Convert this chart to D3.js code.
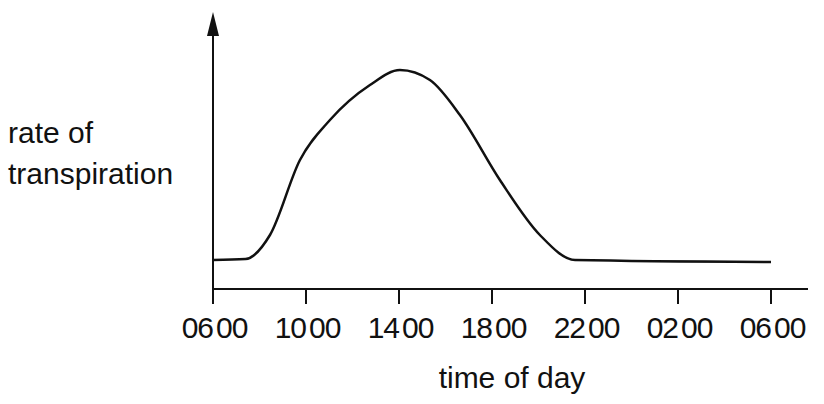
<!DOCTYPE html>
<html><head><meta charset="utf-8">
<script src="https://cdn.jsdelivr.net/npm/d3@7"></script>
<style>body{margin:0;background:#fff}text{font-family:"Liberation Sans",Arial,sans-serif;fill:#111}</style>
</head><body><svg width="824" height="404"></svg>
<script>
// hours after 06:00, and rate (arbitrary units)
var hours = [0, 1.4, 2.45, 3.74, 5.03, 6.75, 8.04, 9.33, 10.62, 12.34, 14.06, 15.57, 24];
var rate  = [30, 31, 55, 130, 170, 205, 220, 210, 175, 110, 55, 30, 28];
var tickHours = [0, 4, 8, 12, 16, 20, 24];
var tickLabels = ["06", "10", "14", "18", "22", "02", "06"];

var svg = d3.select("svg");
var x = d3.scaleLinear().domain([0, 24]).range([213, 771]);
var y = d3.scaleLinear().domain([0, 290]).range([290, 0]);

// axes
svg.append("line").attr("x1", 213).attr("x2", 213).attr("y1", 290).attr("y2", 28)
  .attr("stroke", "#111").attr("stroke-width", 2);
svg.append("path").attr("d", "M213,12 L207,36 L219,36 Z").attr("fill", "#111");
svg.append("line").attr("x1", 213).attr("x2", 808).attr("y1", 289).attr("y2", 289)
  .attr("stroke", "#111").attr("stroke-width", 2);

var t = svg.selectAll(".tk").data(tickHours).enter().append("g")
  .attr("transform", function(d) { return "translate(" + x(d) + ",0)"; });
t.append("line").attr("y1", 289).attr("y2", 304).attr("stroke", "#111").attr("stroke-width", 2);
t.append("text").attr("x", 0).attr("y", 338).attr("text-anchor", "end")
  .attr("font-size", 30).attr("letter-spacing", -1).text(function(d, i) { return tickLabels[i]; });
t.append("text").attr("x", 3).attr("y", 338).attr("font-size", 30).attr("letter-spacing", -1).text("00");

// curve
var pts = hours.map(function(h, i) { return [h, rate[i]]; });
svg.append("path").datum(pts)
  .attr("d", d3.line().x(function(d) { return x(d[0]); }).y(function(d) { return y(d[1]); })
    .curve(d3.curveMonotoneX))
  .attr("fill", "none").attr("stroke", "#111").attr("stroke-width", 2.5);

svg.append("text").attr("x", 8).attr("y", 143).attr("font-size", 30).text("rate of");
svg.append("text").attr("x", 8).attr("y", 184).attr("font-size", 30).text("transpiration");
svg.append("text").attr("x", 512).attr("y", 388).attr("text-anchor", "middle")
  .attr("font-size", 30).text("time of day");
</script></body></html>
